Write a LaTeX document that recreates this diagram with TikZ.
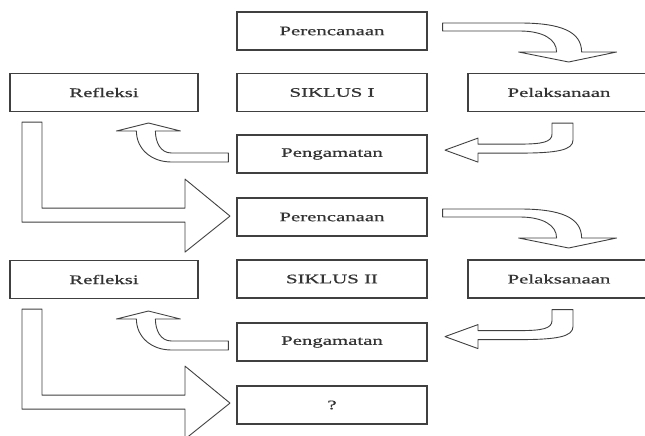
\documentclass[tikz,border=0pt]{standalone}
\usepackage{fontspec}
\setmainfont{Liberation Serif}[FakeStretch=1.6,FakeBold=0.6]
\usetikzlibrary{calc}
\tikzset{
  stage/.style={draw=black!75, line width=1.2pt, fill=white, minimum height=38pt, inner sep=0pt,
     font=\fontsize{13}{15}\selectfont, text=black!80},
  mid/.style={stage, minimum width=190pt},
  side/.style={stage, minimum width=188pt},
  rside/.style={stage, minimum width=182pt},
  blockarrow/.style={draw=black!75, line width=0.9pt, fill=white, line join=round},
  pics/curvedown/.style={code={
    \draw[blockarrow] (15,-8) -- (92,-8) .. controls (132,-8) and (154,0) .. (154,21)
      -- (189,21) -- (141,31) -- (91,21) -- (129,21)
      .. controls (129,8) and (115,0) .. (92,0) -- (15,0) -- cycle;}},
  pics/curveleft/.style={code={
    \draw[blockarrow] (-5,11) -- (16,11) -- (16,28) .. controls (16,38) and (0,41) .. (-37,41)
      -- (-79,41) -- (-79,50) -- (-112,38) -- (-79,26) -- (-79,32) -- (-37,32)
      .. controls (-15,32) and (-5,30) .. (-5,22) -- cycle;}},
  pics/curveup/.style={code={
    \draw[blockarrow] (-8,-1) -- (-65,-1) .. controls (-76,-1) and (-81,-12) .. (-81,-23)
      -- (-56,-23) -- (-88,-31) -- (-120,-23) -- (-100,-23)
      .. controls (-100,-5) and (-85,8) .. (-65,8) -- (-8,8) -- cycle;}},
  pics/lturn/.style={code={
    \draw[blockarrow] (-82,10) -- (-62,10) -- (-62,96) -- (81,96) -- (81,67)
      -- (126,104) -- (81,140) -- (81,110) -- (-82,110) -- cycle;}}
}
\begin{document}
\begin{tikzpicture}[x=1pt,y=-1pt]
\useasboundingbox (0,0) rectangle (645,436);
% cycle I
\node[mid]   (P1) at (332,31)   {Perencanaan};
\node[mid]   (S1) at (332,92.5) {SIKLUS I};
\node[side]  (R1) at (104,92.5) {Refleksi};
\node[rside] (L1) at (559,92.5) {Pelaksanaan};
\node[mid]   (G1) at (332,154)  {Pengamatan};
% cycle II
\node[mid]   (P2) at (332,217)  {Perencanaan};
\node[mid]   (S2) at (332,279)  {SIKLUS II};
\node[side]  (R2) at (104,279.5){Refleksi};
\node[rside] (L2) at (559,279)  {Pelaksanaan};
\node[mid]   (G2) at (332,342)  {Pengamatan};
\node[mid]   (Q)  at (332,405)  {?};
% connectors (block arrows anchored on the nodes)
\pic at (P1.east)  {curvedown};
\pic at ([xshift=-2pt]L1.south) {curveleft};
\pic at (G1.west)  {curveup};
\pic at (R1.south) {lturn};
\pic at (P2.east)  {curvedown};
\pic at ([xshift=-2pt]L2.south) {curveleft};
\pic at (G2.west)  {curveup};
\pic at (R2.south) {lturn};
\end{tikzpicture}
\end{document}
